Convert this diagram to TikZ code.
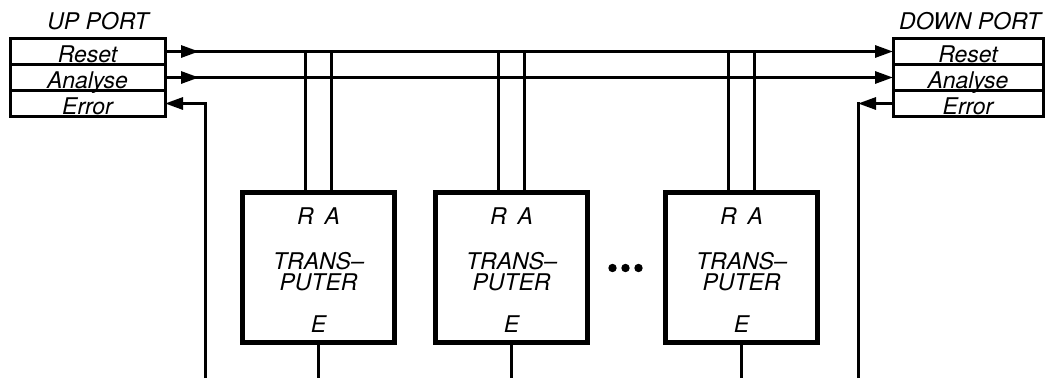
\documentclass[tikz,border=0pt]{standalone}
\usepackage{fontspec}
\setmainfont{TeX Gyre Heros}
\usetikzlibrary{arrows.meta,positioning}

\tikzset{
    portrow/.style={draw, line width=3pt, minimum height=26pt, inner sep=0pt, outer sep=0pt},
    rowtext/.style={anchor=base, inner sep=0pt, yshift=2pt},
    tbox/.style={draw, line width=5pt, minimum width=152pt, minimum height=150pt},
    tlabel/.style={inner sep=0pt, align=center}
}

\begin{document}
\begin{tikzpicture}[x=1pt, y=-1pt, line width=3pt, >={Triangle[length=18pt,width=12pt]},
    font=\fontsize{23}{21}\selectfont\itshape]
    \useasboundingbox (0,0) rectangle (1045,378);

    % Up port
    \node (uplabel) at (98,21.5) {UP PORT};
    \node[portrow, minimum width=155pt] (upR) at (87.5,51.5) {};
    \node[portrow, minimum width=155pt, below=0pt of upR] (upA) {};
    \node[portrow, minimum width=155pt, below=0pt of upA] (upE) {};
    \node[rowtext] (upRt) at (upR.south) {Reset};
    \node[rowtext] (upAt) at (upA.south) {Analyse};
    \node[rowtext] (upEt) at (upE.south) {Error};

    % Down port
    \node (dnlabel) at (970,21.5) {DOWN PORT};
    \node[portrow, minimum width=150pt] (dnR) at (968,51.5) {};
    \node[portrow, minimum width=150pt, below=0pt of dnR] (dnA) {};
    \node[portrow, minimum width=150pt, below=0pt of dnA] (dnE) {};
    \node[rowtext] (dnRt) at (dnR.south) {Reset};
    \node[rowtext] (dnAt) at (dnA.south) {Analyse};
    \node[rowtext] (dnEt) at (dnE.south) {Error};

    % Reset and Analyse lines
    \draw[->] (upR.east) -- ++(34,0);
    \draw[->] (upR.east) -- (dnR.west);
    \draw[->] (upA.east) -- ++(34,0);
    \draw[->] (upA.east) -- (dnA.west);

    % Transputers
    \coordinate (bot) at (0,378);
    \foreach \t/\x in {t1/318.5, t2/511.5, t3/741.5} {
        \node[tbox] (\t) at (\x,267.5) {};
        \node[tlabel, below=16pt of \t.north] (\t ra) {R\hspace{11pt}A};
        \node[tlabel] (\t name) at ([yshift=-4.5pt]\t.center) {TRANS–\\PUTER};
        \node[tlabel, above=11.5pt of \t.south] (\t e) {E};
        \draw ([xshift=-13.5pt]\t.north) -- ([xshift=-13.5pt]\t.north |- upR.east);
        \draw ([xshift=12.5pt]\t.north) -- ([xshift=12.5pt]\t.north |- upR.east);
        \draw (\t.south) -- (\t.south |- bot);
    }

    % Dots
    \foreach \d in {612.5,625.5,638.5}
        \fill (\d,268) circle (4.2pt);

    % Error lines
    \coordinate (eL) at (205,378);
    \coordinate (eR) at (858,378);
    \draw[->] (eL) |- (upE.east);
    \draw (eR) -- ([yshift=1.5pt]eR |- dnE.west);
    \draw[->] (dnE.west) -- (dnE.west -| eR);
\end{tikzpicture}
\end{document}
